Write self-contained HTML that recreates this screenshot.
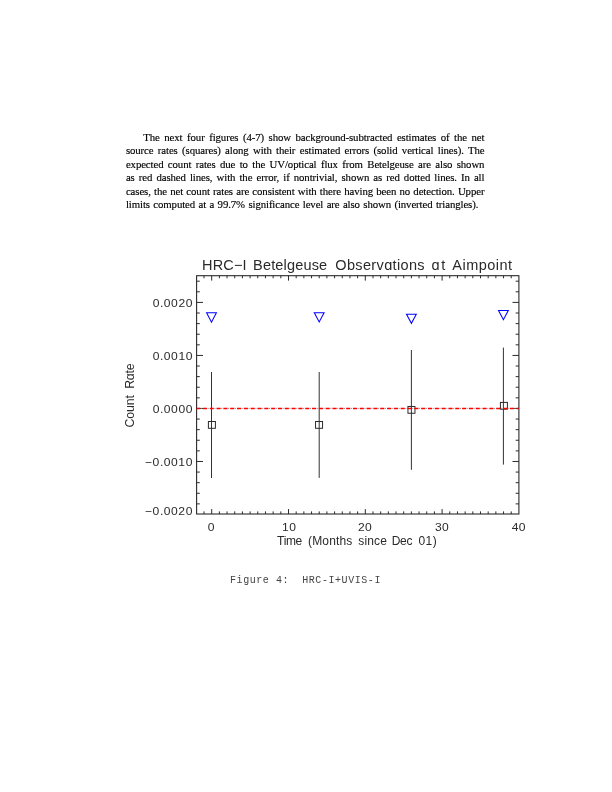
<!DOCTYPE html>
<html><head><meta charset="utf-8"><style>
html,body{margin:0;padding:0;background:#fff;width:612px;height:792px;overflow:hidden;position:relative}
.p{font-family:"Liberation Serif",serif;font-size:10.8px;letter-spacing:-0.1px;fill:#000;stroke:#000;stroke-width:0.15px;white-space:pre}
.cap{font-family:"Liberation Mono",monospace;font-size:10px;letter-spacing:0.564px;fill:#444;white-space:pre}
</style></head><body>
<svg width="612" height="792" viewBox="0 0 612 792" style="position:absolute;left:0;top:0;will-change:transform"><text x="143.30" y="140.90" word-spacing="1.940" class="p">The next four figures (4-7) show background-subtracted estimates of the net</text><text x="125.90" y="154.20" word-spacing="1.756" class="p">source rates (squares) along with their estimated errors (solid vertical lines). The</text><text x="125.90" y="167.60" word-spacing="1.792" class="p">expected count rates due to the UV/optical flux from Betelgeuse are also shown</text><text x="125.90" y="181.00" word-spacing="1.527" class="p">as red dashed lines, with the error, if nontrivial, shown as red dotted lines. In all</text><text x="125.90" y="195.10" word-spacing="0.663" class="p">cases, the net count rates are consistent with there having been no detection. Upper</text><text x="125.90" y="207.90" word-spacing="0.809" class="p">limits computed at a 99.7% significance level are also shown (inverted triangles).</text><path d="M204.02 514.00v-2.6M204.02 275.70v2.6M211.70 514.00v-4.9M211.70 275.70v4.9M219.38 514.00v-2.6M219.38 275.70v2.6M227.06 514.00v-2.6M227.06 275.70v2.6M234.74 514.00v-2.6M234.74 275.70v2.6M242.42 514.00v-2.6M242.42 275.70v2.6M250.10 514.00v-2.6M250.10 275.70v2.6M257.78 514.00v-2.6M257.78 275.70v2.6M265.46 514.00v-2.6M265.46 275.70v2.6M273.14 514.00v-2.6M273.14 275.70v2.6M280.82 514.00v-2.6M280.82 275.70v2.6M288.50 514.00v-4.9M288.50 275.70v4.9M296.18 514.00v-2.6M296.18 275.70v2.6M303.86 514.00v-2.6M303.86 275.70v2.6M311.54 514.00v-2.6M311.54 275.70v2.6M319.22 514.00v-2.6M319.22 275.70v2.6M326.90 514.00v-2.6M326.90 275.70v2.6M334.58 514.00v-2.6M334.58 275.70v2.6M342.26 514.00v-2.6M342.26 275.70v2.6M349.94 514.00v-2.6M349.94 275.70v2.6M357.62 514.00v-2.6M357.62 275.70v2.6M365.30 514.00v-4.9M365.30 275.70v4.9M372.98 514.00v-2.6M372.98 275.70v2.6M380.66 514.00v-2.6M380.66 275.70v2.6M388.34 514.00v-2.6M388.34 275.70v2.6M396.02 514.00v-2.6M396.02 275.70v2.6M403.70 514.00v-2.6M403.70 275.70v2.6M411.38 514.00v-2.6M411.38 275.70v2.6M419.06 514.00v-2.6M419.06 275.70v2.6M426.74 514.00v-2.6M426.74 275.70v2.6M434.42 514.00v-2.6M434.42 275.70v2.6M442.10 514.00v-4.9M442.10 275.70v4.9M449.78 514.00v-2.6M449.78 275.70v2.6M457.46 514.00v-2.6M457.46 275.70v2.6M465.14 514.00v-2.6M465.14 275.70v2.6M472.82 514.00v-2.6M472.82 275.70v2.6M480.50 514.00v-2.6M480.50 275.70v2.6M488.18 514.00v-2.6M488.18 275.70v2.6M495.86 514.00v-2.6M495.86 275.70v2.6M503.54 514.00v-2.6M503.54 275.70v2.6M511.22 514.00v-2.6M511.22 275.70v2.6M196.60 503.89h3.2M518.90 503.89h-3.2M196.60 493.28h3.2M518.90 493.28h-3.2M196.60 482.68h3.2M518.90 482.68h-3.2M196.60 472.07h3.2M518.90 472.07h-3.2M196.60 461.47h6.4M518.90 461.47h-6.4M196.60 450.87h3.2M518.90 450.87h-3.2M196.60 440.26h3.2M518.90 440.26h-3.2M196.60 429.66h3.2M518.90 429.66h-3.2M196.60 419.05h3.2M518.90 419.05h-3.2M196.60 408.45h6.4M518.90 408.45h-6.4M196.60 397.85h3.2M518.90 397.85h-3.2M196.60 387.24h3.2M518.90 387.24h-3.2M196.60 376.64h3.2M518.90 376.64h-3.2M196.60 366.03h3.2M518.90 366.03h-3.2M196.60 355.43h6.4M518.90 355.43h-6.4M196.60 344.83h3.2M518.90 344.83h-3.2M196.60 334.22h3.2M518.90 334.22h-3.2M196.60 323.62h3.2M518.90 323.62h-3.2M196.60 313.01h3.2M518.90 313.01h-3.2M196.60 302.41h6.4M518.90 302.41h-6.4M196.60 291.81h3.2M518.90 291.81h-3.2M196.60 281.20h3.2M518.90 281.20h-3.2" stroke="#2a2a2a" stroke-width="1" fill="none"/><rect x="196.60" y="275.70" width="322.30" height="238.30" fill="none" stroke="#2a2a2a" stroke-width="1.1"/><line x1="211.50" y1="372.00" x2="211.50" y2="478.00" stroke="#333" stroke-width="1"/><rect x="208.40" y="421.50" width="7.0" height="6.8" fill="none" stroke="#2a2a2a" stroke-width="1"/><path d="M206.60 312.80H216.40L211.50 322.20Z" fill="none" stroke="#00f" stroke-width="1.05" stroke-linejoin="miter"/><line x1="319.20" y1="372.00" x2="319.20" y2="477.90" stroke="#333" stroke-width="1"/><rect x="315.55" y="421.50" width="7.0" height="6.8" fill="none" stroke="#2a2a2a" stroke-width="1"/><path d="M314.30 312.80H324.10L319.20 322.00Z" fill="none" stroke="#00f" stroke-width="1.05" stroke-linejoin="miter"/><line x1="411.40" y1="350.00" x2="411.40" y2="469.80" stroke="#333" stroke-width="1"/><rect x="407.95" y="406.45" width="7.0" height="6.8" fill="none" stroke="#2a2a2a" stroke-width="1"/><path d="M406.50 314.20H416.30L411.40 323.30Z" fill="none" stroke="#00f" stroke-width="1.05" stroke-linejoin="miter"/><line x1="503.40" y1="347.60" x2="503.40" y2="464.60" stroke="#333" stroke-width="1"/><rect x="500.40" y="402.40" width="7.0" height="6.8" fill="none" stroke="#2a2a2a" stroke-width="1"/><path d="M498.50 310.40H508.30L503.40 319.70Z" fill="none" stroke="#00f" stroke-width="1.05" stroke-linejoin="miter"/><line x1="196.60" y1="408.45" x2="518.90" y2="408.45" stroke="#888" stroke-width="1.0" stroke-dasharray="1.0 5.82" stroke-dashoffset="2.59"/><line x1="196.60" y1="408.45" x2="518.90" y2="408.45" stroke="#f00" stroke-width="1.5" stroke-dasharray="4.1 2.72" stroke-dashoffset="0.52"/><text transform="translate(202.00 269.80) scale(1.0 1)" font-size="14.5" textLength="44.60" lengthAdjust="spacing" font-family="Liberation Sans" fill="#2a2a2a" >HRC−I</text><text transform="translate(253.10 269.80) scale(1.0 1)" font-size="14.5" textLength="74.10" lengthAdjust="spacing" font-family="Liberation Sans" fill="#2a2a2a" >Betelgeuse</text><text transform="translate(335.30 269.80) scale(1.0 1)" font-size="14.5" textLength="89.30" lengthAdjust="spacing" font-family="Liberation Sans" fill="#2a2a2a" >Observɑtions</text><text transform="translate(431.50 269.80) scale(1.0 1)" font-size="14.5" textLength="13.70" lengthAdjust="spacing" font-family="Liberation Sans" fill="#2a2a2a" >ɑt</text><text transform="translate(452.30 269.80) scale(1.0 1)" font-size="14.5" textLength="59.80" lengthAdjust="spacing" font-family="Liberation Sans" fill="#2a2a2a" >Aimpoint</text><text transform="translate(277.10 544.70) scale(1.0 1)" font-size="12.0" textLength="25.20" lengthAdjust="spacing" font-family="Liberation Sans" fill="#2a2a2a" >Time</text><text transform="translate(308.00 544.70) scale(1.0 1)" font-size="12.0" textLength="44.30" lengthAdjust="spacing" font-family="Liberation Sans" fill="#2a2a2a" >(Months</text><text transform="translate(358.30 544.70) scale(1.0 1)" font-size="12.0" textLength="28.60" lengthAdjust="spacing" font-family="Liberation Sans" fill="#2a2a2a" >since</text><text transform="translate(391.70 544.70) scale(1.0 1)" font-size="12.0" textLength="20.70" lengthAdjust="spacing" font-family="Liberation Sans" fill="#2a2a2a" >Dec</text><text transform="translate(418.40 544.70) scale(1.0 1)" font-size="12.0" textLength="18.40" lengthAdjust="spacing" font-family="Liberation Sans" fill="#2a2a2a" >01)</text><text transform="translate(152.70 306.90) scale(1.07 1)" font-size="11.3" textLength="37.10" lengthAdjust="spacing" font-family="Liberation Sans" fill="#2a2a2a" >0.0020</text><text transform="translate(152.70 359.60) scale(1.07 1)" font-size="11.3" textLength="37.10" lengthAdjust="spacing" font-family="Liberation Sans" fill="#2a2a2a" >0.0010</text><text transform="translate(152.70 412.90) scale(1.07 1)" font-size="11.3" textLength="37.10" lengthAdjust="spacing" font-family="Liberation Sans" fill="#2a2a2a" >0.0000</text><text transform="translate(145.00 466.00) scale(1.07 1)" font-size="11.3" textLength="44.30" lengthAdjust="spacing" font-family="Liberation Sans" fill="#2a2a2a" >−0.0010</text><text transform="translate(145.00 514.90) scale(1.07 1)" font-size="11.3" textLength="44.30" lengthAdjust="spacing" font-family="Liberation Sans" fill="#2a2a2a" >−0.0020</text><text transform="translate(207.85 530.70) scale(1.07 1)" font-size="11.3" textLength="6.45" lengthAdjust="spacing" font-family="Liberation Sans" fill="#2a2a2a" >0</text><text transform="translate(282.10 530.70) scale(1.07 1)" font-size="11.3" textLength="12.90" lengthAdjust="spacing" font-family="Liberation Sans" fill="#2a2a2a" >10</text><text transform="translate(357.90 530.70) scale(1.07 1)" font-size="11.3" textLength="12.90" lengthAdjust="spacing" font-family="Liberation Sans" fill="#2a2a2a" >20</text><text transform="translate(435.00 530.70) scale(1.07 1)" font-size="11.3" textLength="12.90" lengthAdjust="spacing" font-family="Liberation Sans" fill="#2a2a2a" >30</text><text transform="translate(511.70 530.70) scale(1.07 1)" font-size="11.3" textLength="12.90" lengthAdjust="spacing" font-family="Liberation Sans" fill="#2a2a2a" >40</text><text transform="translate(134.2 427.40) rotate(-90) scale(1.03 1)" font-size="11.9" textLength="31.46" lengthAdjust="spacing" font-family="Liberation Sans" fill="#2a2a2a">Count</text><text transform="translate(134.2 388.80) rotate(-90) scale(1.03 1)" font-size="11.9" textLength="24.66" lengthAdjust="spacing" font-family="Liberation Sans" fill="#2a2a2a">Rɑte</text><text x="230" y="583.1" class="cap">Figure 4:  HRC-I+UVIS-I</text></svg>
</body></html>
